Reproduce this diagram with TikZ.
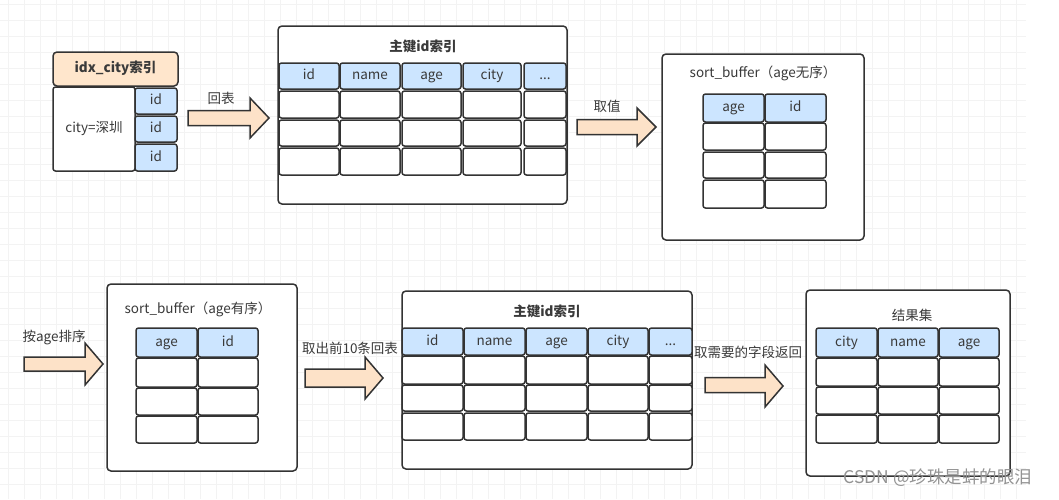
\documentclass[tikz,border=0pt]{standalone}
\usepackage{fontspec}
\setmainfont{Noto Sans CJK SC}
\definecolor{linec}{HTML}{333333}
\definecolor{textc}{HTML}{3A3A3A}
\definecolor{headblue}{HTML}{CCE5FF}
\definecolor{headorange}{HTML}{FFE6CC}
\definecolor{arroworange}{HTML}{FDE2C8}
\definecolor{gridc}{HTML}{F3F3F3}
\newcommand\moredots{...}
\tikzset{
  cell/.style={draw=linec, line width=1.5pt, rounded corners=2.5pt, fill=white},
  headcell/.style={cell, fill=headblue},
  frame/.style={draw=linec, line width=1.5pt, rounded corners=4pt, fill=white},
  blockarrow/.style={draw=linec, line width=1.5pt, fill=arroworange, line join=miter},
  lbl/.style={text=textc, inner sep=0pt, text height=10pt, text depth=3pt, font=\fontsize{13.5}{14}\selectfont},
  boldlbl/.style={lbl, font=\fontsize{13.5}{14}\selectfont\bfseries},
}
\begin{document}
\begin{tikzpicture}[x=1pt, y=-1pt]
\useasboundingbox (0,0) rectangle (1059,499);
\fill[white] (0,0) rectangle (1059,499);
\foreach \gx in {8,24,...,1024} \draw[gridc, line width=0.6pt] (\gx,0) -- (\gx,499);
\foreach \gy in {4,20,...,499} \draw[gridc, line width=0.6pt] (0,\gy) -- (1026,\gy);

% idx_city index
\draw[frame, fill=headorange] (53,52) rectangle (178,86);
\node[boldlbl] (idxtitle) at (115.5,69) {idx\_city索引};
\draw[cell] (53,87) rectangle (135,171);
\node[lbl] (cityval) at (94,129) {city=深圳};
\foreach \ya/\yb [count=\i] in {88/114, 116/142, 144/171} {
  \draw[headcell] (135,\ya) rectangle (177,\yb);
  \node[lbl] (idxid\i) at (156,{(\ya+\yb)/2}) {id};
}

% arrow 1
\node[lbl] (back1) at (221,100) {回表};
\draw[blockarrow] (188,110.5) -- (250,110.5) -- (250,98) -- (269,118) -- (250,138) -- (250,125.5) -- (188,125.5) -- cycle;

% primary key index, top
\draw[frame] (278,26) rectangle (567,204);
\node[boldlbl] (pktitle1) at (423,48) {主键id索引};
\foreach \xa/\xb/\t [count=\i] in {279/339/id, 340/400/name, 402/461/age, 463/521/city, 524/566/{\moredots}} {
  \draw[headcell] (\xa,63) rectangle (\xb,89);
  \node[lbl] (pkhead1\i) at ({(\xa+\xb)/2},76) {\t};
  \foreach \ya/\yb in {91/118, 120/146, 148/175}
    \draw[cell] (\xa,\ya) rectangle (\xb,\yb);
}

% arrow 2
\node[lbl] (fetch) at (607,108) {取值};
\draw[blockarrow] (577,119.5) -- (637,119.5) -- (637,108) -- (656,127) -- (637,146) -- (637,134.5) -- (577,134.5) -- cycle;

% sort_buffer unordered
\draw[frame] (662,54) rectangle (864,240);
\node[lbl] (sbtitle1) at (763,74) {sort\_buffer（age无序）};
\foreach \xa/\xb/\t [count=\i] in {703/764/age, 765/826/id} {
  \draw[headcell] (\xa,94) rectangle (\xb,122);
  \node[lbl] (sbhead1\i) at ({(\xa+\xb)/2},108) {\t};
  \foreach \ya/\yb in {123/150, 152/178, 180/208}
    \draw[cell] (\xa,\ya) rectangle (\xb,\yb);
}

% arrow 3
\node[lbl] (sortage) at (54,338) {按age排序};
\draw[blockarrow] (24,357) -- (85,357) -- (85,343) -- (103,364) -- (85,385) -- (85,371) -- (24,371) -- cycle;

% sort_buffer ordered
\draw[frame] (107,284) rectangle (297,471);
\node[lbl] (sbtitle2) at (198,310) {sort\_buffer（age有序）};
\foreach \xa/\xb/\t [count=\i] in {136/197/age, 198/258/id} {
  \draw[headcell] (\xa,328) rectangle (\xb,357);
  \node[lbl] (sbhead2\i) at ({(\xa+\xb)/2},342.5) {\t};
  \foreach \ya/\yb in {358/387, 388/415, 416/443}
    \draw[cell] (\xa,\ya) rectangle (\xb,\yb);
}

% arrow 4
\node[lbl] (topten) at (350,350) {取出前10条回表};
\draw[blockarrow] (305,369) -- (365,369) -- (365,357) -- (383,378) -- (365,399) -- (365,387) -- (305,387) -- cycle;

% primary key index, bottom
\draw[frame] (402,291) rectangle (692,469);
\node[boldlbl] (pktitle2) at (547,313) {主键id索引};
\foreach \xa/\xb/\t [count=\i] in {402/463/id, 464/525/name, 526/587/age, 588/648/city, 649/692/{\moredots}} {
  \draw[headcell] (\xa,328) rectangle (\xb,355);
  \node[lbl] (pkhead2\i) at ({(\xa+\xb)/2},341.5) {\t};
  \foreach \ya/\yb in {356/384, 385/411, 413/440}
    \draw[cell] (\xa,\ya) rectangle (\xb,\yb);
}

% arrow 5
\node[lbl] (pickcols) at (748,354) {取需要的字段返回};
\draw[blockarrow] (705,377.5) -- (765,377.5) -- (765,365) -- (783,386) -- (765,407) -- (765,392.5) -- (705,392.5) -- cycle;

% result set
\draw[frame] (806,290) rectangle (1010,476);
\node[lbl] (restitle) at (912,317) {结果集};
\foreach \xa/\xb/\t [count=\i] in {816/877/city, 878/938/name, 939/999/age} {
  \draw[headcell] (\xa,328) rectangle (\xb,357);
  \node[lbl] (reshead\i) at ({(\xa+\xb)/2},342.5) {\t};
  \foreach \ya/\yb in {358/386, 387/414, 415/443}
    \draw[cell] (\xa,\ya) rectangle (\xb,\yb);
}

\node[lbl, text=gray!85, font=\fontsize{17.5}{18}\selectfont] (mark) at (938,480) {CSDN @珍珠是蚌的眼泪};
\end{tikzpicture}
\end{document}
